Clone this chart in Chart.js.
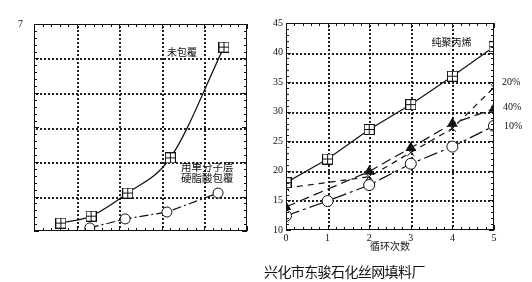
<!DOCTYPE html>
<html>
<head>
<meta charset="utf-8">
<script src="https://cdn.jsdelivr.net/npm/chart.js@4.4.1/dist/chart.umd.min.js"></script>
<style>
  body { margin: 0; background: #fff; width: 532px; height: 282px; position: relative; overflow: hidden; }
  #footer {
    position: absolute; left: 264px; top: 261px;
    font: 14px "Noto Sans CJK SC"; color: #111; letter-spacing: -0.6px; white-space: nowrap;
  }
</style>
</head>
<body>
<canvas id="leftChart" width="260" height="250" style="position:absolute;left:0;top:0"></canvas>
<canvas id="rightChart" width="282" height="262" style="position:absolute;left:250px;top:0"></canvas>
<div id="footer">兴化市东骏石化丝网填料厂</div>
<script>
// ---- left panel: coated vs uncoated ----
const uncoatedX = [0.63, 1.34, 2.2, 3.2, 4.46];
const uncoatedY = [1.23, 1.43, 2.1, 3.12, 6.33];
const coatedX = [1.31, 2.14, 3.12, 4.32];
const coatedY = [1.09, 1.35, 1.55, 2.1];

// ---- right panel: cycles vs value ----
const cycles = [0, 1, 2, 3, 4, 5];
const purePP = [18, 22, 27, 31.2, 36, 41];
const pct20 = [17.1, null, 19.0, 23.1, 27.2, 34.1];
const pct40 = [13.9, null, 19.9, 23.9, 28, 30.5];
const pct10 = [12.4, 14.9, 17.6, 21.2, 24.1, 27.6];
const rightYTicks = [10, 15, 20, 25, 30, 35, 40, 45];

const INK = '#111';
const SERIF = '"Liberation Serif", serif';
const CJK = '"Noto Sans CJK SC", sans-serif';

function toPoints(xs, ys) {
  return xs.map((x, i) => ({ x: x, y: ys[i] }));
}

// square with a cross inside
function makeBoxCross(size) {
  const c = document.createElement('canvas');
  c.width = c.height = size;
  const g = c.getContext('2d');
  g.fillStyle = '#fff';
  g.fillRect(0, 0, size, size);
  g.strokeStyle = INK;
  g.lineWidth = 1;
  g.strokeRect(0.5, 0.5, size - 1, size - 1);
  const m = Math.floor(size / 2) + 0.5;
  g.beginPath();
  g.moveTo(m, 0); g.lineTo(m, size);
  g.moveTo(0, m); g.lineTo(size, m);
  g.stroke();
  return c;
}
const boxCross = makeBoxCross(11);

// dotted grid under the data, frame and inward ticks over it
const frameTicks = {
  id: 'frameTicks',
  beforeDatasetsDraw(chart, args, opts) {
    const { ctx, chartArea: a, scales } = chart;
    const xs = scales.x, ys = scales.y;
    const eps = 1e-6;
    ctx.save();
    ctx.fillStyle = '#222';
    for (let v = xs.min + opts.xMajor; v < xs.max - eps; v += opts.xMajor) {
      const px = Math.round(xs.getPixelForValue(v));
      for (let y = Math.round(a.top) + 2; y < a.bottom - 1; y += 4) ctx.fillRect(px, y, 2, 2);
    }
    for (let v = ys.min + opts.yMajor; v < ys.max - eps; v += opts.yMajor) {
      const py = Math.round(ys.getPixelForValue(v));
      for (let x = Math.round(a.left) + 2; x < a.right - 1; x += 4) ctx.fillRect(x, py, 2, 2);
    }
    ctx.restore();
  },
  afterDatasetsDraw(chart, args, opts) {
    const { ctx, chartArea: a, scales } = chart;
    const xs = scales.x, ys = scales.y;
    const eps = 1e-6;
    ctx.save();
    ctx.strokeStyle = INK;
    ctx.lineWidth = 1;
    ctx.strokeRect(Math.round(a.left) + 0.5, Math.round(a.top) + 0.5, Math.round(a.right - a.left) - 1, Math.round(a.bottom - a.top) - 1);
    ctx.beginPath();
    for (let v = xs.min; v <= xs.max + eps; v += opts.xStep) {
      const major = Math.abs(v - Math.round(v / opts.xMajor) * opts.xMajor) < eps;
      const len = major ? 5 : 3;
      const px = Math.round(xs.getPixelForValue(v)) + 0.5;
      ctx.moveTo(px, a.bottom); ctx.lineTo(px, a.bottom - len);
      ctx.moveTo(px, a.top); ctx.lineTo(px, a.top + len);
    }
    for (let v = ys.min; v <= ys.max + eps; v += opts.yStep) {
      const major = Math.abs(v - Math.round(v / opts.yMajor) * opts.yMajor) < eps;
      const len = major ? 5 : 3;
      const py = Math.round(ys.getPixelForValue(v)) + 0.5;
      ctx.moveTo(a.left, py); ctx.lineTo(a.left + len, py);
      ctx.moveTo(a.right, py); ctx.lineTo(a.right - len, py);
    }
    ctx.stroke();
    ctx.restore();
  }
};

// text notes placed at data coordinates
const notes = {
  id: 'notes',
  afterDraw(chart, args, opts) {
    const { ctx, scales } = chart;
    ctx.save();
    ctx.fillStyle = INK;
    ctx.textBaseline = 'middle';
    (opts.items || []).forEach(n => {
      ctx.font = n.font;
      ctx.textAlign = n.align || 'left';
      ctx.fillText(n.text, scales.x.getPixelForValue(n.x) + (n.dx || 0), scales.y.getPixelForValue(n.y) + (n.dy || 0));
    });
    ctx.restore();
  }
};

new Chart(document.getElementById('leftChart'), {
  type: 'scatter',
  data: {
    datasets: [
      {
        label: '未包覆',
        data: toPoints(uncoatedX, uncoatedY),
        showLine: true,
        borderColor: INK,
        borderWidth: 1.2,
        cubicInterpolationMode: 'monotone',
        pointStyle: boxCross,
        pointRadius: 5
      },
      {
        label: '用单分子层硬脂酸包覆',
        data: toPoints(coatedX, coatedY),
        showLine: true,
        borderColor: INK,
        borderWidth: 1.2,
        borderDash: [9, 3, 2, 3],
        pointStyle: 'circle',
        pointRadius: 5,
        pointBackgroundColor: '#fff',
        pointBorderColor: INK,
        pointBorderWidth: 1
      }
    ]
  },
  options: {
    responsive: false,
    animation: false,
    layout: { padding: { top: 24, right: 13, bottom: 19, left: 0 } },
    plugins: {
      legend: { display: false },
      tooltip: { enabled: false },
      frameTicks: { xStep: 0.2, xMajor: 1, yStep: 0.2, yMajor: 1 },
      notes: {
        items: [
          { text: '未包覆', x: 3.12, y: 6.19, font: '10px ' + CJK },
          { text: '用单分子层', x: 3.45, y: 2.86, font: '10.5px ' + CJK },
          { text: '硬脂酸包覆', x: 3.45, y: 2.54, font: '10.5px ' + CJK }
        ]
      }
    },
    scales: {
      x: {
        type: 'linear', min: 0, max: 5,
        ticks: { display: false, stepSize: 1 },
        grid: { display: false },
        border: { display: false },
        afterFit(s) { s.height = 0; }
      },
      y: {
        type: 'linear', min: 1, max: 7,
        ticks: {
          stepSize: 1, padding: 3, color: INK,
          font: { family: SERIF, size: 10 },
          callback: v => (v === 7 ? '7' : '')
        },
        grid: { display: false },
        border: { display: false },
        afterFit(s) { s.width = 34; }
      }
    }
  },
  plugins: [frameTicks, notes]
});

new Chart(document.getElementById('rightChart'), {
  type: 'line',
  data: {
    labels: cycles,
    datasets: [
      {
        label: '纯聚丙烯',
        data: purePP,
        borderColor: INK, borderWidth: 1.2,
        pointStyle: boxCross, pointRadius: 5
      },
      {
        label: '20%',
        data: pct20,
        spanGaps: true,
        borderColor: INK, borderWidth: 1.2, borderDash: [6, 5],
        pointStyle: 'crossRot', pointRadius: 5, pointBorderColor: INK, pointBorderWidth: 1
      },
      {
        label: '40%',
        data: pct40,
        spanGaps: true,
        borderColor: INK, borderWidth: 1.2, borderDash: [10, 5],
        pointStyle: 'triangle', pointRadius: 5, pointBackgroundColor: INK, pointBorderColor: INK
      },
      {
        label: '10%',
        data: pct10,
        borderColor: INK, borderWidth: 1.2, borderDash: [14, 4, 3, 4],
        pointStyle: 'circle', pointRadius: 5.5,
        pointBackgroundColor: '#fff', pointBorderColor: INK, pointBorderWidth: 1
      }
    ]
  },
  options: {
    responsive: false,
    animation: false,
    layout: { padding: { top: 23, right: 38, bottom: 10, left: 0 } },
    plugins: {
      legend: { display: false },
      tooltip: { enabled: false },
      frameTicks: { xStep: 0.2, xMajor: 1, yStep: 1, yMajor: 5 },
      notes: {
        items: [
          { text: '纯聚丙烯', x: 3.5, y: 41.8, font: '10px ' + CJK },
          { text: '20%', x: 5, y: 34.9, dx: 8, font: '10px ' + SERIF },
          { text: '40%', x: 5, y: 30.8, dx: 9, font: '10px ' + SERIF },
          { text: '10%', x: 5, y: 27.6, dx: 10, font: '10px ' + SERIF }
        ]
      }
    },
    scales: {
      x: {
        type: 'linear', min: 0, max: 5,
        ticks: { stepSize: 1, padding: 2, color: INK, font: { family: SERIF, size: 10 } },
        title: { display: true, text: '循环次数', color: INK, padding: { top: 0, bottom: 0 }, font: { family: CJK, size: 10 } },
        grid: { display: false, drawTicks: false },
        border: { display: false },
        afterFit(s) { s.height = 22; }
      },
      y: {
        type: 'linear', min: 10, max: 45,
        afterBuildTicks(s) { s.ticks = rightYTicks.map(v => ({ value: v })); },
        ticks: { padding: 3, color: INK, font: { family: SERIF, size: 10 } },
        grid: { display: false, drawTicks: false },
        border: { display: false },
        afterFit(s) { s.width = 36; }
      }
    }
  },
  plugins: [frameTicks, notes]
});
</script>
</body>
</html>
